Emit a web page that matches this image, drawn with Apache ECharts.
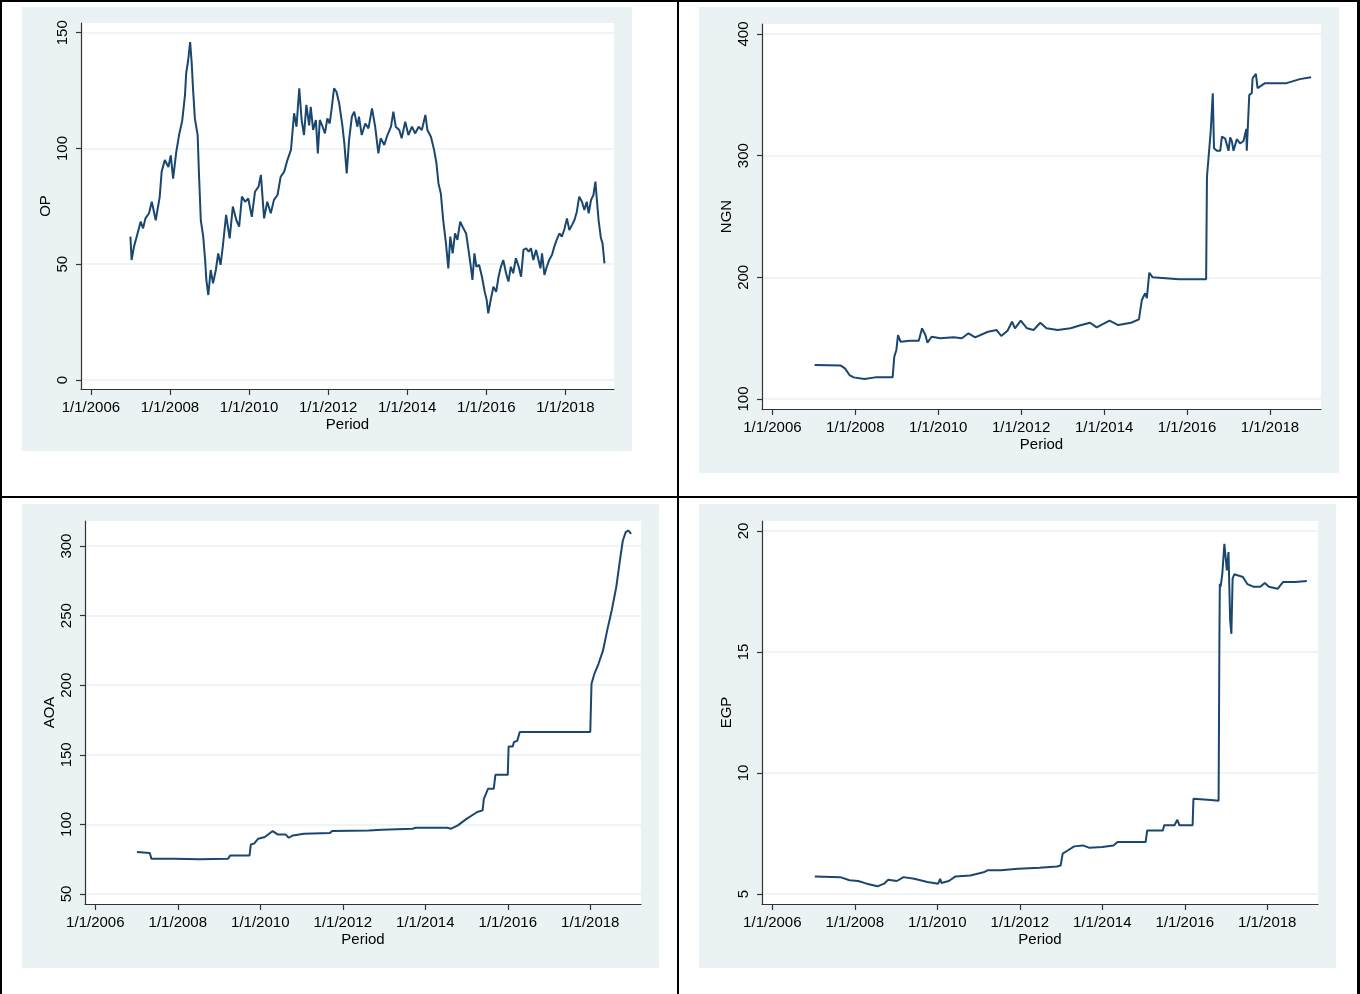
<!DOCTYPE html>
<html>
<head>
    <meta charset="utf-8">
    <title>OP, NGN, AOA, EGP</title>
    <script src="https://cdn.jsdelivr.net/npm/echarts@6/dist/echarts.min.js"></script>
    <style>
        body { margin: 0; background: #fff; }
    </style>
</head>
<body>
    <div id="main" style="width: 1360px;height:994px;"></div>
    <script type="text/javascript">
        // x values are decimal years
        var xTicks = [2006, 2008, 2010, 2012, 2014, 2016, 2018];
        var xTitle = 'Period';

        var opTicks = [0, 50, 100, 150];
        var ngnTicks = [100, 200, 300, 400];
        var aoaTicks = [50, 100, 150, 200, 250, 300];
        var egpTicks = [5, 10, 15, 20];

        var opData = [
            [2007.00, 61.9], [2007.03, 51.8], [2007.09, 57.6], [2007.17, 62.6], [2007.26, 68.4], [2007.32, 65.5],
            [2007.38, 69.8], [2007.47, 72.0], [2007.54, 77.0], [2007.64, 69.0], [2007.74, 79.0], [2007.79, 90.0],
            [2007.87, 95.0], [2007.96, 92.0], [2008.02, 97.0], [2008.08, 87.0], [2008.16, 98.6], [2008.23, 105.8],
            [2008.31, 112.0], [2008.38, 123.0], [2008.41, 132.5], [2008.46, 138.0], [2008.51, 146.0], [2008.55, 136.8],
            [2008.58, 126.7], [2008.63, 113.0], [2008.70, 105.8], [2008.73, 90.7], [2008.78, 69.0], [2008.84, 62.0],
            [2008.89, 51.8], [2008.92, 43.2], [2008.97, 36.7], [2009.03, 47.5], [2009.09, 41.8], [2009.16, 47.5],
            [2009.22, 54.7], [2009.28, 49.7], [2009.34, 58.3], [2009.42, 71.3], [2009.51, 61.2], [2009.59, 74.9],
            [2009.68, 69.0], [2009.75, 66.2], [2009.82, 79.2], [2009.90, 77.0], [2009.98, 78.4], [2010.07, 70.5],
            [2010.15, 81.3], [2010.24, 83.5], [2010.30, 88.6], [2010.38, 69.8], [2010.46, 77.0], [2010.55, 72.0],
            [2010.63, 77.8], [2010.72, 79.9], [2010.80, 87.8], [2010.89, 90.0], [2010.97, 95.0], [2011.06, 99.4],
            [2011.14, 115.2], [2011.20, 109.4], [2011.27, 126.0], [2011.33, 112.3], [2011.39, 105.8], [2011.45, 118.8],
            [2011.52, 110.0], [2011.56, 118.0], [2011.62, 108.0], [2011.69, 112.3], [2011.74, 97.9], [2011.79, 112.3],
            [2011.86, 109.4], [2011.92, 106.5], [2011.98, 113.0], [2012.04, 110.8], [2012.09, 117.3], [2012.15, 126.0],
            [2012.21, 124.5], [2012.28, 119.5], [2012.36, 110.0], [2012.41, 102.2], [2012.47, 89.2], [2012.53, 103.7],
            [2012.60, 113.7], [2012.66, 115.9], [2012.74, 109.4], [2012.78, 113.7], [2012.85, 105.8], [2012.94, 110.8],
            [2013.02, 108.7], [2013.11, 117.3], [2013.19, 109.4], [2013.27, 97.9], [2013.33, 104.4], [2013.42, 101.5],
            [2013.50, 105.8], [2013.59, 109.4], [2013.65, 115.9], [2013.71, 109.4], [2013.80, 108.0], [2013.86, 104.4],
            [2013.95, 111.6], [2014.03, 105.8], [2014.12, 109.4], [2014.20, 106.5], [2014.29, 109.4], [2014.37, 108.0],
            [2014.46, 114.5], [2014.51, 108.0], [2014.60, 105.1], [2014.68, 99.4], [2014.74, 93.6], [2014.79, 85.0],
            [2014.85, 80.6], [2014.91, 69.1], [2014.98, 59.0], [2015.04, 48.2], [2015.09, 61.9], [2015.15, 54.7],
            [2015.21, 63.3], [2015.27, 60.5], [2015.34, 68.4], [2015.42, 65.5], [2015.49, 63.3], [2015.55, 56.2],
            [2015.61, 48.9], [2015.65, 43.2], [2015.70, 54.7], [2015.75, 48.9], [2015.82, 49.7], [2015.89, 44.6],
            [2015.96, 38.1], [2016.01, 34.6], [2016.05, 28.8], [2016.12, 35.3], [2016.18, 40.3], [2016.25, 38.1],
            [2016.31, 44.6], [2016.37, 48.9], [2016.43, 51.8], [2016.50, 46.1], [2016.56, 42.5], [2016.62, 48.9],
            [2016.68, 46.1], [2016.75, 52.6], [2016.82, 48.9], [2016.88, 44.6], [2016.94, 56.2], [2017.01, 56.9],
            [2017.07, 55.4], [2017.13, 56.9], [2017.19, 51.8], [2017.26, 56.2], [2017.32, 51.8], [2017.37, 48.2],
            [2017.41, 54.7], [2017.47, 45.4], [2017.53, 48.9], [2017.59, 51.8], [2017.66, 54.0], [2017.72, 57.6],
            [2017.78, 60.5], [2017.85, 63.3], [2017.91, 61.9], [2017.97, 64.8], [2018.04, 69.8], [2018.10, 64.8],
            [2018.17, 67.0], [2018.23, 69.1], [2018.29, 72.7], [2018.35, 79.2], [2018.42, 77.0], [2018.48, 73.4],
            [2018.54, 77.0], [2018.59, 72.0], [2018.65, 77.8], [2018.71, 79.9], [2018.76, 85.7], [2018.79, 79.2],
            [2018.84, 69.1], [2018.90, 61.2], [2018.94, 59.0], [2018.99, 50.4]
        ];

        var ngnData = [
            [2007.02, 127.9], [2007.65, 127.5], [2007.75, 125.2], [2007.86, 119.7], [2007.96, 117.8], [2008.22, 116.4],
            [2008.48, 117.8], [2008.90, 117.8], [2008.94, 134.8], [2008.99, 140.3], [2009.03, 152.6], [2009.09, 147.1],
            [2009.32, 147.9], [2009.53, 147.9], [2009.61, 158.1], [2009.69, 152.6], [2009.74, 146.3], [2009.84, 151.2],
            [2010.05, 149.9], [2010.37, 150.7], [2010.57, 149.9], [2010.73, 154.0], [2010.89, 150.7], [2011.20, 155.3],
            [2011.41, 156.7], [2011.52, 151.8], [2011.67, 156.1], [2011.78, 163.5], [2011.85, 158.1], [2011.99, 164.4],
            [2012.14, 158.1], [2012.30, 156.7], [2012.46, 162.7], [2012.61, 158.1], [2012.88, 156.7], [2013.19, 158.1],
            [2013.45, 160.8], [2013.66, 162.7], [2013.82, 158.9], [2014.13, 164.4], [2014.34, 160.8], [2014.65, 162.7],
            [2014.84, 165.5], [2014.91, 181.4], [2014.99, 186.9], [2015.03, 182.8], [2015.09, 203.8], [2015.17, 200.0],
            [2015.80, 198.4], [2016.46, 198.4], [2016.48, 282.7], [2016.52, 283.5], [2016.57, 319.7], [2016.62, 351.3],
            [2016.65, 306.0], [2016.72, 304.0], [2016.80, 304.0], [2016.84, 315.6], [2016.92, 314.0], [2017.00, 304.0],
            [2017.04, 315.0], [2017.08, 312.0], [2017.12, 304.0], [2017.20, 313.5], [2017.28, 310.0], [2017.36, 312.0],
            [2017.43, 322.0], [2017.44, 304.0], [2017.50, 349.9], [2017.56, 351.3], [2017.58, 363.6], [2017.66, 367.2],
            [2017.70, 355.5], [2017.88, 359.6], [2018.40, 359.6], [2018.72, 362.9], [2018.99, 364.5]
        ];

        var aoaData = [
            [2007.01, 80.2], [2007.32, 79.5], [2007.36, 75.4], [2007.90, 75.4], [2008.53, 74.9], [2009.22, 75.4],
            [2009.27, 77.7], [2009.74, 77.7], [2009.77, 85.6], [2009.85, 86.2], [2009.95, 89.7], [2010.11, 90.9],
            [2010.30, 95.2], [2010.42, 92.8], [2010.61, 92.8], [2010.69, 90.4], [2010.79, 92.1], [2011.06, 93.3],
            [2011.69, 93.8], [2011.74, 95.3], [2012.63, 95.7], [2012.95, 96.2], [2013.69, 96.9], [2013.77, 97.6],
            [2014.53, 97.6], [2014.63, 96.9], [2014.79, 99.3], [2015.00, 104.0], [2015.26, 108.9], [2015.39, 110.1],
            [2015.42, 118.4], [2015.52, 125.6], [2015.66, 125.6], [2015.70, 135.6], [2016.00, 135.6], [2016.02, 156.0],
            [2016.12, 156.0], [2016.15, 159.2], [2016.23, 160.0], [2016.29, 166.4], [2018.00, 166.4], [2018.03, 201.0],
            [2018.10, 208.2], [2018.20, 215.4], [2018.31, 225.0], [2018.41, 239.4], [2018.52, 253.7], [2018.63, 270.5],
            [2018.73, 292.1], [2018.79, 304.0], [2018.86, 310.0], [2018.92, 311.2], [2018.99, 308.8]
        ];

        var egpData = [
            [2007.03, 5.73], [2007.65, 5.70], [2007.87, 5.57], [2008.08, 5.54], [2008.29, 5.43], [2008.55, 5.32],
            [2008.71, 5.43], [2008.81, 5.59], [2009.02, 5.54], [2009.18, 5.70], [2009.44, 5.63], [2009.76, 5.50],
            [2010.02, 5.43], [2010.07, 5.63], [2010.10, 5.46], [2010.28, 5.54], [2010.44, 5.73], [2010.80, 5.77],
            [2011.12, 5.90], [2011.22, 5.98], [2011.54, 5.98], [2011.96, 6.05], [2012.48, 6.09], [2012.90, 6.14],
            [2012.99, 6.18], [2013.04, 6.67], [2013.16, 6.80], [2013.32, 6.97], [2013.53, 7.01], [2013.69, 6.91],
            [2014.00, 6.94], [2014.27, 7.01], [2014.37, 7.15], [2015.05, 7.15], [2015.09, 7.63], [2015.47, 7.63],
            [2015.50, 7.84], [2015.75, 7.84], [2015.82, 8.07], [2015.87, 7.84], [2016.19, 7.84], [2016.21, 8.94],
            [2016.63, 8.89], [2016.82, 8.85], [2016.84, 15.62], [2016.85, 17.82], [2016.87, 17.70], [2016.91, 18.23],
            [2016.96, 19.47], [2017.02, 18.37], [2017.06, 19.13], [2017.10, 16.31], [2017.13, 15.75], [2017.16, 18.03],
            [2017.20, 18.21], [2017.41, 18.10], [2017.52, 17.80], [2017.67, 17.69], [2017.83, 17.69], [2017.94, 17.85],
            [2018.04, 17.69], [2018.25, 17.61], [2018.38, 17.89], [2018.68, 17.89], [2018.96, 17.93]
        ];

        var font = '"Liberation Sans", Arial, sans-serif';
        var navy = '#1a476f';
        var bgColor = '#eaf2f3';

        var panels = [
            { name: 'OP', data: opData, ticks: opTicks, yMin: -3.9, yMax: 154.2, grid: [81, 23, 533, 366], bg: [22, 7, 610, 444] },
            { name: 'NGN', data: ngnData, ticks: ngnTicks, yMin: 91.8, yMax: 408.2, grid: [762, 24, 559, 385], bg: [699, 7, 640, 466] },
            { name: 'AOA', data: aoaData, ticks: aoaTicks, yMin: 42.8, yMax: 318, grid: [85, 521, 556, 383], bg: [22, 504, 637, 464] },
            { name: 'EGP', data: egpData, ticks: egpTicks, yMin: 4.59, yMax: 20.41, grid: [762, 521, 556, 383], bg: [699, 504, 637, 464] }
        ];

        var grids = [], xAxes = [], yAxes = [], series = [], graphics = [];

        panels.forEach(function (p, i) {
            graphics.push({
                type: 'rect', z: -10, silent: true,
                shape: { x: p.bg[0], y: p.bg[1], width: p.bg[2], height: p.bg[3] },
                style: { fill: bgColor }
            });
            grids.push({
                left: p.grid[0], top: p.grid[1], width: p.grid[2], height: p.grid[3],
                show: true, backgroundColor: '#fff', borderWidth: 0
            });
            xAxes.push({
                gridIndex: i, type: 'value', min: 2005.75, max: 2019.23,
                name: xTitle, nameLocation: 'middle', nameGap: 28,
                nameTextStyle: { fontFamily: font, fontSize: 15, color: '#000' },
                axisLine: { show: true, onZero: false, lineStyle: { color: '#333', width: 1.2 } },
                axisTick: { show: true, length: 6, customValues: xTicks, lineStyle: { color: '#333', width: 1.2 } },
                axisLabel: {
                    customValues: xTicks, margin: 11, fontFamily: font, fontSize: 15, color: '#000',
                    formatter: function (v) { return '1/1/' + v; }
                },
                splitLine: { show: false }
            });
            yAxes.push({
                gridIndex: i, type: 'value', min: p.yMin, max: p.yMax,
                name: p.name, nameLocation: 'middle', nameGap: 28, nameRotate: 90,
                nameTextStyle: { fontFamily: font, fontSize: 15, color: '#000' },
                axisLine: { show: true, onZero: false, lineStyle: { color: '#333', width: 1.2 } },
                axisTick: { show: true, length: 5, customValues: p.ticks, lineStyle: { color: '#333', width: 1.2 } },
                axisLabel: {
                    customValues: p.ticks, rotate: 90, margin: 11,
                    fontFamily: font, fontSize: 15, color: '#000'
                },
                splitLine: { show: true, lineStyle: { color: bgColor, width: 1.5 } }
            });
            series.push({
                type: 'line', xAxisIndex: i, yAxisIndex: i,
                data: p.data, showSymbol: false, symbol: 'none',
                lineStyle: { color: navy, width: 2 },
                silent: true
            });
        });

        // table borders
        var black = { fill: '#000' };
        graphics.push({ type: 'rect', z: 100, shape: { x: 0, y: 0, width: 2, height: 994 }, style: black });
        graphics.push({ type: 'rect', z: 100, shape: { x: 0, y: 0, width: 1360, height: 2 }, style: black });
        graphics.push({ type: 'rect', z: 100, shape: { x: 1357, y: 0, width: 3, height: 994 }, style: black });
        graphics.push({ type: 'rect', z: 100, shape: { x: 677, y: 0, width: 2, height: 994 }, style: black });
        graphics.push({ type: 'rect', z: 100, shape: { x: 0, y: 496, width: 1360, height: 2 }, style: black });

        var myChart = echarts.init(document.getElementById('main'));
        var option = {
            animation: false,
            backgroundColor: '#fff',
            grid: grids,
            xAxis: xAxes,
            yAxis: yAxes,
            series: series,
            graphic: graphics
        };
        myChart.setOption(option);
    </script>
</body>
</html>
